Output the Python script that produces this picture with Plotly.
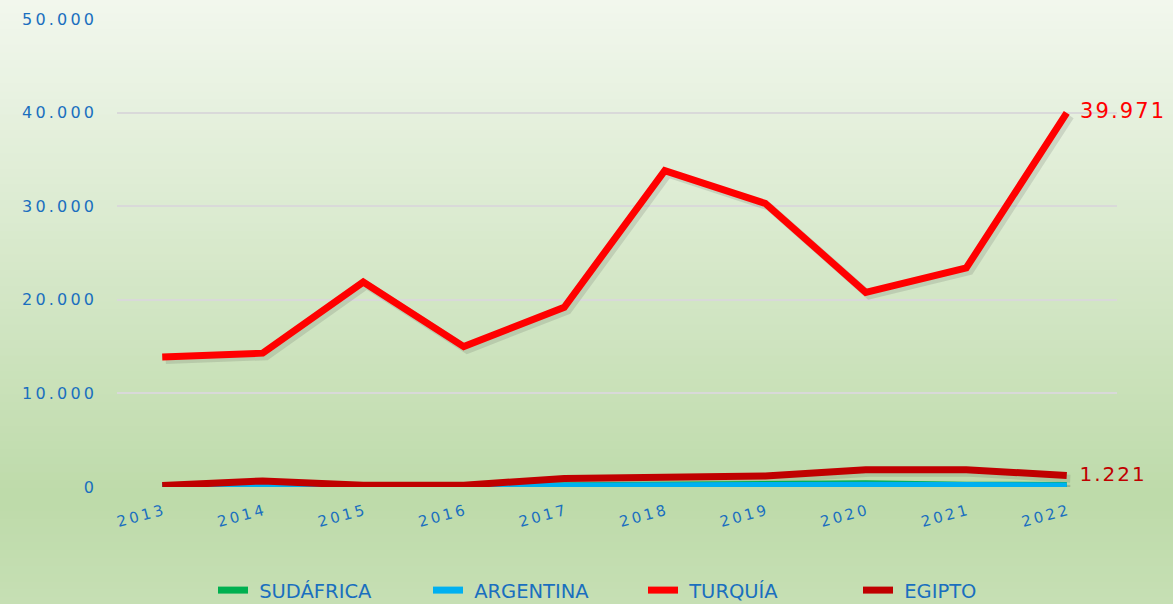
import plotly.graph_objects as go

years = ["2013", "2014", "2015", "2016", "2017", "2018", "2019", "2020", "2021", "2022"]
sudafrica = [50, 120, 30, 50, 150, 200, 250, 350, 200, 150]
argentina = [100, 300, 50, 80, 250, 200, 200, 200, 150, 100]
turquia = [13900, 14300, 21900, 15000, 19200, 33800, 30300, 20800, 23400, 39971]
egipto = [150, 650, 180, 200, 900, 1070, 1170, 1850, 1850, 1221]

y_ticks = [0, 10000, 20000, 30000, 40000, 50000]

series = [
    ("SUDÁFRICA", sudafrica, "#00B050"),
    ("ARGENTINA", argentina, "#00B0F0"),
    ("TURQUÍA", turquia, "#FF0000"),
    ("EGIPTO", egipto, "#C00000"),
]
labelled = {"TURQUÍA": 21, "EGIPTO": 20}

SP = "\u2009"
HSP = "\u200a"

def fmt(v):
    return f"{v:,}".replace(",", ".")

def spaced(s, sp=SP):
    return sp.join(list(s))

xs = list(range(len(years)))
fig = go.Figure()

# shadows
for name, vals, col in series:
    fig.add_trace(go.Scatter(
        x=[x + 0.035 for x in xs], y=[v - 330 for v in vals], mode="lines",
        line=dict(color="rgba(60,60,60,0.14)", width=8), showlegend=False, hoverinfo="skip"))

for name, vals, col in series:
    label = " " + name
    if name in labelled:
        txt = [""] * (len(vals) - 1) + ["  " + spaced(fmt(vals[-1]), HSP)]
        fig.add_trace(go.Scatter(
            x=xs, y=vals, mode="lines+text", name=label, text=txt,
            textposition="middle right",
            textfont=dict(color=col, size=labelled[name], family="DejaVu Sans"),
            line=dict(color=col, width=7), cliponaxis=False))
    else:
        fig.add_trace(go.Scatter(x=xs, y=vals, mode="lines", name=label,
                                 line=dict(color=col, width=7)))

# gradient background
shapes = []
n = 80
top = (243, 248, 239)
mid = (190, 219, 170)
bot = (199, 224, 181)
y0, y1 = -0.27, 1.06
for i in range(n):
    f = i / (n - 1)
    if f < 0.82:
        g = f / 0.82
        c = tuple(int(top[k] + (mid[k] - top[k]) * g) for k in range(3))
    else:
        g = (f - 0.82) / 0.18
        c = tuple(int(mid[k] + (bot[k] - mid[k]) * g) for k in range(3))
    ya = y1 - (y1 - y0) * i / n
    yb = y1 - (y1 - y0) * (i + 1) / n
    shapes.append(dict(type="rect", xref="paper", yref="paper", x0=-0.2, x1=1.1,
                       y0=yb - 0.002, y1=ya + 0.002, line=dict(width=0),
                       fillcolor=f"rgb{c}", layer="below"))

blue = "#1A6FBF"
fig.update_layout(
    width=1173, height=604,
    margin=dict(l=117, r=56, t=19, b=117, autoexpand=False),
    paper_bgcolor="#d8e8c8", plot_bgcolor="rgba(0,0,0,0)",
    separators=",.",
    shapes=shapes,
    font=dict(family="DejaVu Sans", color=blue),
    xaxis=dict(tickvals=xs, ticktext=[spaced(y) for y in years], range=[-0.45, 9.5],
               showgrid=False, zeroline=False, showline=False, tickangle=-15,
               tickfont=dict(size=15, color=blue), ticklabelstandoff=12),
    yaxis=dict(range=[0, 50000], tickvals=y_ticks,
               ticktext=[spaced(fmt(v)) for v in y_ticks],
               gridcolor="#d9d9d9", gridwidth=1.5, zeroline=False, showline=False,
               tickfont=dict(size=16, color=blue), ticklabelstandoff=22),
    legend=dict(orientation="h", x=0.096, xanchor="left", y=-0.221, yanchor="middle",
                font=dict(size=19.5, color=blue), bgcolor="rgba(0,0,0,0)",
                entrywidth=170, entrywidthmode="pixels", traceorder="normal"),
    showlegend=True,
)

fig.write_html("out.html", config={"displayModeBar": False},
               post_script="document.body.style.margin='0';document.body.style.overflow='hidden';")
